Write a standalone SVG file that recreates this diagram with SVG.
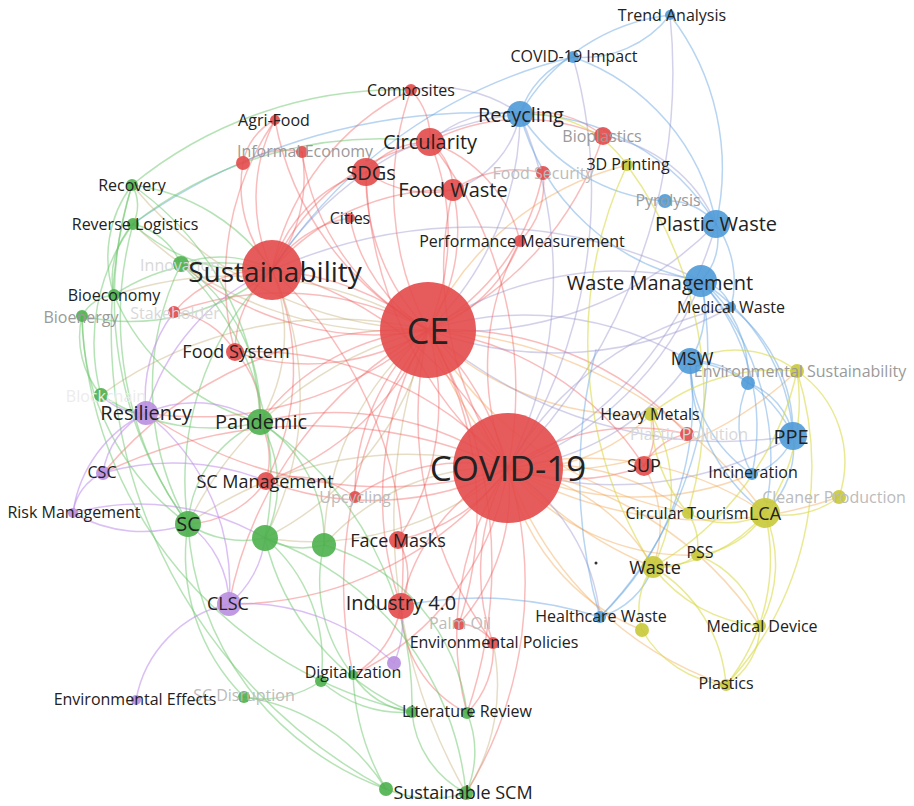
<svg xmlns="http://www.w3.org/2000/svg" width="914" height="806" viewBox="0 0 914 806">
<style>
#edges path{fill:none;stroke-width:1.5;stroke-linecap:round}
.r{stroke:rgba(238,80,80,.38)}
.g{stroke:rgba(110,200,110,.5)}
.b{stroke:rgba(95,160,225,.45)}
.y{stroke:rgba(215,215,60,.55)}
.p{stroke:rgba(190,140,235,.55)}
.o{stroke:rgba(240,160,70,.4)}
.v{stroke:rgba(150,145,205,.42)}
.gr{stroke:rgba(190,165,105,.38)}
text{font-family:"Open Sans","Noto Sans","Liberation Sans",sans-serif;text-anchor:middle;dominant-baseline:central;fill:#222}
.s16{font-size:16px}.s18{font-size:18px}.s20{font-size:20px}
.f1{fill:#9a9a9a}.f2{fill:#bbbbbb}.f3{fill:#d8d8d8}.f4{fill:#ececec}
.nr{fill:#e34a4a;fill-opacity:.9}.ng{fill:#4cb04c;fill-opacity:.9}.nb{fill:#4f9ad8;fill-opacity:.9}.ny{fill:#c9c93a;fill-opacity:.9}.np{fill:#b98ee0;fill-opacity:.9}
</style>
<rect width="914" height="806" fill="#ffffff"/>
<g id="edges">
<path class="r" stroke-width="16" d="M428 330 A300 300 0 0 1 508 468"/>
<path class="r" stroke-width="9" d="M428 330 A300 300 0 0 0 272 270"/>
<path class="r" stroke-width="3" d="M428 330 A220 220 0 0 1 366 172"/>
<path class="r" stroke-width="3" d="M428 330 A240 240 0 0 0 430 142"/>
<path class="r" stroke-width="3" d="M428 330 A180 180 0 0 0 453 190"/>
<path class="r" stroke-width="2" d="M428 330 A300 300 0 0 1 411 90"/>
<path class="r" d="M428 330 A300 300 0 0 1 275 120"/>
<path class="r" d="M428 330 A170 170 0 0 1 350 218"/>
<path class="r" stroke-width="2" d="M428 330 A150 150 0 0 0 520 241"/>
<path class="r" d="M428 330 A230 230 0 0 0 543 173"/>
<path class="r" d="M428 330 A320 320 0 0 0 603 136"/>
<path class="v" stroke-width="5" d="M428 330 A300 300 0 0 0 520 114"/>
<path class="v" stroke-width="3" d="M428 330 A360 360 0 0 0 716 224"/>
<path class="v" stroke-width="6" d="M428 330 A340 340 0 0 1 701 281"/>
<path class="v" stroke-width="3" d="M428 330 A320 320 0 0 1 690 361"/>
<path class="r" d="M428 330 A230 230 0 0 1 235 352"/>
<path class="r" stroke-width="3" d="M428 330 A230 230 0 0 0 260 422"/>
<path class="r" stroke-width="3" d="M428 330 A280 280 0 0 1 266 481"/>
<path class="gr" stroke-width="2" d="M428 330 A360 360 0 0 0 188 524"/>
<path class="gr" stroke-width="3" d="M428 330 A310 310 0 0 1 265 538"/>
<path class="gr" stroke-width="3" d="M428 330 A280 280 0 0 0 324 545"/>
<path class="r" stroke-width="3" d="M428 330 A250 250 0 0 1 398 540"/>
<path class="r" stroke-width="2.5" d="M428 330 A330 330 0 0 0 401 606"/>
<path class="r" d="M428 330 A360 360 0 0 1 459 624"/>
<path class="r" d="M428 330 A380 380 0 0 0 493 643"/>
<path class="r" stroke-width="2" d="M428 330 A300 300 0 0 1 644 466"/>
<path class="o" d="M428 330 A290 290 0 0 0 651 414"/>
<path class="o" d="M428 330 A450 450 0 0 1 765 513"/>
<path class="o" d="M428 330 A400 400 0 0 0 653 567"/>
<path class="r" d="M428 330 A350 350 0 0 1 146 413"/>
<path class="r" d="M428 330 A310 310 0 0 0 174 312"/>
<path class="r" d="M428 330 A300 300 0 0 1 181 264"/>
<path class="gr" d="M428 330 A380 380 0 0 0 114 295"/>
<path class="gr" d="M428 330 A380 380 0 0 1 133 224"/>
<path class="gr" d="M428 330 A400 400 0 0 1 132 185"/>
<path class="r" d="M428 330 A430 430 0 0 0 353 675"/>
<path class="r" d="M428 330 A460 460 0 0 1 467 713"/>
<path class="gr" d="M428 330 A550 550 0 0 0 466 793"/>
<path class="r" d="M428 330 A400 400 0 0 0 229 604"/>
<path class="r" d="M428 330 A330 330 0 0 1 687 434"/>
<path class="o" d="M428 330 A380 380 0 0 0 688 513"/>
<path class="r" d="M428 330 A220 220 0 0 0 355 497"/>
<path class="r" d="M428 330 A240 240 0 0 1 302 152"/>
<path class="o" d="M428 330 A300 300 0 0 1 627 165"/>
<path class="v" d="M428 330 A450 450 0 0 0 793 436"/>
<path class="v" d="M428 330 A360 360 0 0 0 731 307"/>
<path class="r" d="M428 330 A400 400 0 0 0 103 473"/>
<path class="gr" d="M428 330 A400 400 0 0 0 101 395"/>
<path class="r" stroke-width="5" d="M508 468 A360 360 0 0 0 272 270"/>
<path class="r" stroke-width="2" d="M508 468 A400 400 0 0 1 366 172"/>
<path class="r" stroke-width="2" d="M508 468 A400 400 0 0 0 430 142"/>
<path class="r" stroke-width="2" d="M508 468 A340 340 0 0 1 453 190"/>
<path class="v" stroke-width="2" d="M508 468 A420 420 0 0 0 520 114"/>
<path class="v" stroke-width="3" d="M508 468 A380 380 0 0 0 716 224"/>
<path class="v" stroke-width="6" d="M508 468 A320 320 0 0 0 701 281"/>
<path class="v" stroke-width="3" d="M508 468 A250 250 0 0 0 690 361"/>
<path class="v" d="M508 468 A330 330 0 0 1 731 307"/>
<path class="v" stroke-width="2" d="M508 468 A350 350 0 0 0 793 436"/>
<path class="r" stroke-width="4" d="M508 468 A200 200 0 0 0 644 466"/>
<path class="r" d="M508 468 A220 220 0 0 1 687 434"/>
<path class="o" stroke-width="2" d="M508 468 A180 180 0 0 0 651 414"/>
<path class="o" stroke-width="3" d="M508 468 A320 320 0 0 1 765 513"/>
<path class="o" stroke-width="2" d="M508 468 A230 230 0 0 1 688 513"/>
<path class="o" stroke-width="3" d="M508 468 A200 200 0 0 1 653 567"/>
<path class="o" d="M508 468 A230 230 0 0 0 697 555"/>
<path class="o" d="M508 468 A360 360 0 0 1 760 626"/>
<path class="o" d="M508 468 A350 350 0 0 0 726 685"/>
<path class="v" d="M508 468 A200 200 0 0 1 600 617"/>
<path class="r" d="M508 468 A210 210 0 0 0 493 643"/>
<path class="r" d="M508 468 A200 200 0 0 1 459 624"/>
<path class="r" stroke-width="3" d="M508 468 A200 200 0 0 0 401 606"/>
<path class="r" stroke-width="4" d="M508 468 A180 180 0 0 1 398 540"/>
<path class="r" stroke-width="2" d="M508 468 A190 190 0 0 0 355 497"/>
<path class="r" stroke-width="3" d="M508 468 A300 300 0 0 1 266 481"/>
<path class="r" stroke-width="4" d="M508 468 A300 300 0 0 0 260 422"/>
<path class="gr" stroke-width="4" d="M508 468 A300 300 0 0 1 265 538"/>
<path class="gr" stroke-width="4" d="M508 468 A230 230 0 0 0 324 545"/>
<path class="gr" stroke-width="3" d="M508 468 A380 380 0 0 0 188 524"/>
<path class="r" d="M508 468 A420 420 0 0 1 146 413"/>
<path class="r" stroke-width="2" d="M508 468 A340 340 0 0 0 235 352"/>
<path class="r" d="M508 468 A480 480 0 0 0 103 473"/>
<path class="o" d="M508 468 A300 300 0 0 0 752 474"/>
<path class="o" d="M508 468 A400 400 0 0 0 839 497"/>
<path class="o" d="M508 468 A360 360 0 0 0 797 371"/>
<path class="r" d="M508 468 A280 280 0 0 1 353 675"/>
<path class="r" d="M508 468 A300 300 0 0 0 467 713"/>
<path class="r" d="M508 468 A400 400 0 0 1 466 793"/>
<path class="v" d="M508 468 A500 500 0 0 0 573 57"/>
<path class="v" d="M508 468 A560 560 0 0 0 670 15"/>
<path class="r" d="M508 468 A260 260 0 0 1 520 241"/>
<path class="r" d="M508 468 A350 350 0 0 1 229 604"/>
<path class="o" d="M508 468 A220 220 0 0 0 642 630"/>
<path class="r" stroke-width="3" d="M272 270 A140 140 0 0 1 366 172"/>
<path class="r" stroke-width="3" d="M272 270 A220 220 0 0 1 430 142"/>
<path class="r" d="M272 270 A170 170 0 0 1 275 120"/>
<path class="r" d="M272 270 A150 150 0 0 0 302 152"/>
<path class="r" d="M272 270 A130 130 0 0 1 243 163"/>
<path class="r" d="M272 270 A110 110 0 0 1 350 218"/>
<path class="r" stroke-width="2" d="M272 270 A110 110 0 0 0 235 352"/>
<path class="gr" stroke-width="2" d="M272 270 A170 170 0 0 1 260 422"/>
<path class="r" d="M272 270 A120 120 0 0 0 174 312"/>
<path class="g" d="M272 270 A110 110 0 0 0 181 264"/>
<path class="g" d="M272 270 A190 190 0 0 0 114 295"/>
<path class="g" d="M272 270 A180 180 0 0 1 133 224"/>
<path class="g" d="M272 270 A200 200 0 0 0 132 185"/>
<path class="g" d="M272 270 A300 300 0 0 0 188 524"/>
<path class="p" d="M272 270 A220 220 0 0 0 146 413"/>
<path class="r" d="M272 270 A240 240 0 0 1 266 481"/>
<path class="r" d="M272 270 A230 230 0 0 1 453 190"/>
<path class="r" d="M272 270 A260 260 0 0 1 411 90"/>
<path class="v" d="M272 270 A340 340 0 0 1 520 114"/>
<path class="r" d="M272 270 A400 400 0 0 1 401 606"/>
<path class="gr" d="M272 270 A300 300 0 0 1 265 538"/>
<path class="g" d="M272 270 A220 220 0 0 1 82 316"/>
<path class="v" d="M272 270 A500 500 0 0 1 701 281"/>
<path class="r" d="M366 172 A80 80 0 0 1 430 142"/>
<path class="r" d="M366 172 A110 110 0 0 0 453 190"/>
<path class="r" d="M430 142 A70 70 0 0 0 411 90"/>
<path class="r" d="M430 142 A60 60 0 0 1 453 190"/>
<path class="v" d="M430 142 A110 110 0 0 1 520 114"/>
<path class="r" d="M430 142 A200 200 0 0 1 603 136"/>
<path class="v" stroke-width="2.5" d="M453 190 A100 100 0 0 0 520 114"/>
<path class="r" d="M453 190 A110 110 0 0 1 543 173"/>
<path class="v" d="M411 90 A140 140 0 0 1 520 114"/>
<path class="r" d="M275 120 A60 60 0 0 0 243 163"/>
<path class="r" d="M275 120 A280 280 0 0 0 235 352"/>
<path class="r" d="M243 163 A80 80 0 0 1 302 152"/>
<path class="r" d="M430 142 A140 140 0 0 1 520 241"/>
<path class="r" d="M543 173 A80 80 0 0 1 520 241"/>
<path class="v" d="M603 136 A150 150 0 0 1 716 224"/>
<path class="r" d="M603 136 A100 100 0 0 0 520 114"/>
<path class="r" d="M235 352 A90 90 0 0 1 260 422"/>
<path class="r" d="M235 352 A80 80 0 0 0 174 312"/>
<path class="r" d="M266 481 A80 80 0 0 0 260 422"/>
<path class="r" d="M266 481 A100 100 0 0 1 188 524"/>
<path class="r" d="M398 540 A70 70 0 0 1 401 606"/>
<path class="r" d="M401 606 A100 100 0 0 1 353 675"/>
<path class="r" d="M401 606 A120 120 0 0 0 467 713"/>
<path class="p" stroke-width="2" d="M401 606 A100 100 0 0 1 394 663"/>
<path class="r" d="M493 643 A90 90 0 0 1 467 713"/>
<path class="gr" d="M493 643 A200 200 0 0 1 466 793"/>
<path class="r" d="M459 624 A40 40 0 0 1 493 643"/>
<path class="r" d="M355 497 A100 100 0 0 0 266 481"/>
<path class="r" d="M644 466 A60 60 0 0 1 687 434"/>
<path class="r" d="M644 466 A60 60 0 0 0 651 414"/>
<path class="o" d="M644 466 A120 120 0 0 1 653 567"/>
<path class="b" d="M520 114 A90 90 0 0 1 573 57"/>
<path class="b" d="M520 114 A200 200 0 0 1 670 15"/>
<path class="b" stroke-width="3" d="M520 114 A230 230 0 0 1 716 224"/>
<path class="b" stroke-width="3" d="M520 114 A230 230 0 0 0 701 281"/>
<path class="b" d="M520 114 A190 190 0 0 0 665 201"/>
<path class="y" d="M520 114 A120 120 0 0 1 627 165"/>
<path class="b" d="M573 57 A110 110 0 0 0 670 15"/>
<path class="b" d="M573 57 A220 220 0 0 1 716 224"/>
<path class="b" d="M670 15 A250 250 0 0 1 716 224"/>
<path class="b" d="M573 57 A500 500 0 0 0 272 270"/>
<path class="b" d="M520 114 A600 600 0 0 0 133 224"/>
<path class="b" stroke-width="3" d="M716 224 A60 60 0 0 1 701 281"/>
<path class="b" d="M716 224 A60 60 0 0 0 665 201"/>
<path class="b" d="M716 224 A100 100 0 0 1 731 307"/>
<path class="b" d="M701 281 A40 40 0 0 1 731 307"/>
<path class="b" stroke-width="4" d="M701 281 A100 100 0 0 1 690 361"/>
<path class="b" stroke-width="2" d="M701 281 A200 200 0 0 1 793 436"/>
<path class="b" d="M701 281 A120 120 0 0 1 748 383"/>
<path class="b" d="M701 281 A220 220 0 0 1 752 474"/>
<path class="b" stroke-width="2" d="M690 361 A130 130 0 0 1 793 436"/>
<path class="b" d="M690 361 A80 80 0 0 1 748 383"/>
<path class="b" d="M690 361 A140 140 0 0 0 752 474"/>
<path class="b" d="M748 383 A70 70 0 0 1 793 436"/>
<path class="b" d="M748 383 A100 100 0 0 0 752 474"/>
<path class="b" d="M793 436 A60 60 0 0 1 752 474"/>
<path class="b" d="M731 307 A160 160 0 0 1 793 436"/>
<path class="b" stroke-width="2" d="M600 617 A300 300 0 0 0 690 361"/>
<path class="b" d="M600 617 A380 380 0 0 0 701 281"/>
<path class="b" d="M600 617 A80 80 0 0 0 653 567"/>
<path class="b" d="M793 436 A90 90 0 0 1 765 513"/>
<path class="b" d="M701 281 A260 260 0 0 1 765 513"/>
<path class="b" d="M690 361 A190 190 0 0 0 765 513"/>
<path class="b" d="M600 617 A400 400 0 0 0 401 606"/>
<path class="b" d="M600 617 A500 500 0 0 1 596 350"/>
<path class="y" d="M765 513 A90 90 0 0 0 839 497"/>
<path class="y" d="M765 513 A200 200 0 0 0 797 371"/>
<path class="y" d="M765 513 A80 80 0 0 1 688 513"/>
<path class="y" d="M765 513 A90 90 0 0 1 697 555"/>
<path class="y" d="M765 513 A150 150 0 0 1 653 567"/>
<path class="y" d="M765 513 A130 130 0 0 1 760 626"/>
<path class="y" d="M765 513 A200 200 0 0 1 726 685"/>
<path class="y" d="M653 567 A60 60 0 0 0 697 555"/>
<path class="y" d="M653 567 A150 150 0 0 0 760 626"/>
<path class="y" d="M653 567 A150 150 0 0 1 726 685"/>
<path class="y" d="M642 630 A110 110 0 0 0 726 685"/>
<path class="y" d="M642 630 A70 70 0 0 1 653 567"/>
<path class="y" d="M760 626 A70 70 0 0 1 726 685"/>
<path class="y" d="M797 371 A110 110 0 0 1 839 497"/>
<path class="y" d="M797 371 A320 320 0 0 1 726 685"/>
<path class="y" d="M627 165 A420 420 0 0 0 653 567"/>
<path class="y" d="M627 165 A400 400 0 0 1 688 513"/>
<path class="y" d="M651 414 A160 160 0 0 1 653 567"/>
<path class="y" d="M797 371 A200 200 0 0 0 651 414"/>
<path class="y" d="M697 555 A100 100 0 0 1 760 626"/>
<path class="y" d="M688 513 A60 60 0 0 1 697 555"/>
<path class="y" d="M797 371 A300 300 0 0 1 653 567"/>
<path class="y" d="M690 361 A100 100 0 0 1 797 371"/>
<path class="y" d="M651 414 A150 150 0 0 0 688 513"/>
<path class="g" d="M132 185 A40 40 0 0 1 133 224"/>
<path class="g" d="M132 185 A120 120 0 0 0 114 295"/>
<path class="g" d="M133 224 A80 80 0 0 0 114 295"/>
<path class="g" d="M133 224 A70 70 0 0 1 181 264"/>
<path class="g" d="M114 295 A40 40 0 0 0 82 316"/>
<path class="g" d="M82 316 A90 90 0 0 0 101 395"/>
<path class="g" d="M133 224 A200 200 0 0 0 101 395"/>
<path class="p" d="M101 395 A60 60 0 0 0 146 413"/>
<path class="g" d="M101 395 A200 200 0 0 0 260 422"/>
<path class="g" stroke-width="2" d="M260 422 A120 120 0 0 0 188 524"/>
<path class="g" stroke-width="2" d="M260 422 A120 120 0 0 1 265 538"/>
<path class="g" stroke-width="2" d="M260 422 A140 140 0 0 1 324 545"/>
<path class="g" stroke-width="4" d="M188 524 A100 100 0 0 0 265 538"/>
<path class="g" stroke-width="5" d="M265 538 A80 80 0 0 0 324 545"/>
<path class="p" d="M188 524 A100 100 0 0 1 229 604"/>
<path class="g" d="M188 524 A200 200 0 0 0 244 697"/>
<path class="g" d="M265 538 A160 160 0 0 1 321 681"/>
<path class="g" d="M324 545 A150 150 0 0 0 353 675"/>
<path class="g" d="M324 545 A200 200 0 0 1 467 713"/>
<path class="g" d="M265 538 A250 250 0 0 0 412 712"/>
<path class="g" d="M188 524 A300 300 0 0 0 386 789"/>
<path class="g" d="M321 681 A120 120 0 0 0 412 712"/>
<path class="g" d="M321 681 A100 100 0 0 1 244 697"/>
<path class="g" d="M467 713 A100 100 0 0 1 466 793"/>
<path class="g" d="M412 712 A100 100 0 0 0 466 793"/>
<path class="g" d="M244 697 A200 200 0 0 1 386 789"/>
<path class="g" d="M265 538 A300 300 0 0 1 466 793"/>
<path class="g" d="M260 422 A340 340 0 0 1 412 712"/>
<path class="g" d="M181 264 A180 180 0 0 1 260 422"/>
<path class="g" d="M132 185 A300 300 0 0 1 260 422"/>
<path class="g" d="M114 295 A220 220 0 0 0 260 422"/>
<path class="g" d="M188 524 A350 350 0 0 1 133 224"/>
<path class="g" d="M132 185 A380 380 0 0 0 188 524"/>
<path class="g" d="M82 316 A260 260 0 0 0 188 524"/>
<path class="g" d="M181 264 A280 280 0 0 0 188 524"/>
<path class="g" d="M386 789 A120 120 0 0 0 466 793"/>
<path class="g" d="M386 789 A250 250 0 0 1 353 675"/>
<path class="g" d="M181 264 A300 300 0 0 1 265 538"/>
<path class="g" d="M132 185 A420 420 0 0 1 411 90"/>
<path class="g" d="M132 185 A520 520 0 0 0 386 789"/>
<path class="g" d="M82 316 A420 420 0 0 0 412 712"/>
<path class="g" d="M133 224 A400 400 0 0 1 430 142"/>
<path class="g" d="M353 675 A80 80 0 0 0 412 712"/>
<path class="p" d="M146 413 A80 80 0 0 0 103 473"/>
<path class="p" d="M146 413 A130 130 0 0 0 73 513"/>
<path class="p" d="M103 473 A50 50 0 0 0 73 513"/>
<path class="p" stroke-width="2" d="M146 413 A220 220 0 0 1 229 604"/>
<path class="p" d="M229 604 A120 120 0 0 0 136 700"/>
<path class="p" stroke-width="2.5" d="M146 413 A140 140 0 0 1 174 312"/>
<path class="p" d="M103 473 A250 250 0 0 1 266 481"/>
<path class="p" d="M229 604 A100 100 0 0 0 265 538"/>
<path class="p" d="M146 413 A120 120 0 0 1 260 422"/>
<path class="p" d="M394 663 A220 220 0 0 0 229 604"/>
<path class="p" d="M73 513 A140 140 0 0 0 188 524"/>
<path class="p" d="M73 513 A250 250 0 0 1 265 538"/>
</g>
<g id="n-stakeholder"><circle class="nr" cx="174" cy="312" r="6"/><text class="s16 f3" x="175" y="313">Stakeholder</text></g>
<g id="n-innovation"><circle class="ng" cx="181" cy="264" r="8"/><text class="s16 f3" x="180" y="265">Innovation</text></g>
<g id="n-blockchain"><circle class="ng" cx="101" cy="395" r="7"/><text class="s16 f4" x="106" y="396">Blockchain</text></g>
<g id="n-bioenergy"><circle class="ng" cx="82" cy="316" r="6"/><text class="s16 f1" x="81" y="317">Bioenergy</text></g>
<g id="n-bioeconomy"><circle class="ng" cx="114" cy="295" r="6"/><text class="s16" x="114" y="295">Bioeconomy</text></g>
<g id="n-recovery"><circle class="ng" cx="132" cy="185" r="6"/><text class="s16" x="132" y="185">Recovery</text></g>
<g id="n-reverse-logistics"><circle class="ng" cx="133" cy="224" r="6"/><text class="s16" x="135" y="224">Reverse Logistics</text></g>
<g id="n-informal-economy"><circle class="nr" cx="302" cy="152" r="6"/><text class="s16 f1" x="305" y="151">Informal Economy</text></g>
<g id="n-red-1"><circle class="nr" cx="243" cy="163" r="7"/></g>
<g id="n-agri-food"><circle class="nr" cx="275" cy="120" r="5"/><text class="s16" x="274" y="120">Agri-Food</text></g>
<g id="n-composites"><circle class="nr" cx="411" cy="90" r="6"/><text class="s16" x="411" y="90">Composites</text></g>
<g id="n-cities"><circle class="nr" cx="350" cy="218" r="5"/><text class="s16" x="350" y="218">Cities</text></g>
<g id="n-food-security"><circle class="nr" cx="543" cy="173" r="7"/><text class="s16 f2" x="543" y="173">Food Security</text></g>
<g id="n-bioplastics"><circle class="nr" cx="603" cy="136" r="9"/><text class="s16 f1" x="602" y="136">Bioplastics</text></g>
<g id="n-performance"><circle class="nr" cx="520" cy="241" r="6"/><text class="s16" x="522" y="241">Performance Measurement</text></g>
<g id="n-food-system"><circle class="nr" cx="235" cy="352" r="9"/><text class="s18" x="236" y="351">Food System</text></g>
<g id="n-upcycling"><circle class="nr" cx="355" cy="497" r="6"/><text class="s16 f2" x="355" y="497">Upcycling</text></g>
<g id="n-sc-management"><circle class="nr" cx="266" cy="481" r="9"/><text class="s18" x="265" y="481">SC Management</text></g>
<g id="n-face-masks"><circle class="nr" cx="398" cy="540" r="9"/><text class="s18" x="398" y="540">Face Masks</text></g>
<g id="n-palm-oil"><circle class="nr" cx="459" cy="624" r="6"/><text class="s16 f2" x="460" y="623">Palm Oil</text></g>
<g id="n-industry"><circle class="nr" cx="401" cy="606" r="13"/><text class="s20" x="401" y="602">Industry 4.0</text></g>
<g id="n-env-policies"><circle class="nr" cx="493" cy="643" r="6"/><text class="s16" x="494" y="642">Environmental Policies</text></g>
<g id="n-plastic-pollution"><circle class="nr" cx="687" cy="434" r="7"/><text class="s16 f3" x="689" y="434">Plastic Pollution</text></g>
<g id="n-sup"><circle class="nr" cx="644" cy="466" r="10"/><text class="s18" x="644" y="465">SUP</text></g>
<g id="n-covid-impact"><circle class="nb" cx="573" cy="57" r="6"/><text class="s16" x="574" y="56">COVID-19 Impact</text></g>
<g id="n-trend"><circle class="nb" cx="670" cy="15" r="5"/><text class="s16" x="672" y="15">Trend Analysis</text></g>
<g id="n-3d"><circle class="ny" cx="627" cy="165" r="6"/><text class="s16" x="628" y="164">3D Printing</text></g>
<g id="n-pyrolysis"><circle class="nb" cx="665" cy="201" r="7"/><text class="s16 f1" x="668" y="200">Pyrolysis</text></g>
<g id="n-recycling"><circle class="nb" cx="520" cy="114" r="13"/><text class="s20" x="521" y="114">Recycling</text></g>
<g id="n-medical-waste"><circle class="nb" cx="731" cy="307" r="5"/><text class="s16" x="731" y="307">Medical Waste</text></g>
<g id="n-blue-1"><circle class="nb" cx="748" cy="383" r="7"/></g>
<g id="n-env-sust"><circle class="ny" cx="797" cy="371" r="7"/><text class="s16 f1" x="800" y="371">Environmental Sustainability</text></g>
<g id="n-incineration"><circle class="nb" cx="752" cy="474" r="6"/><text class="s16" x="753" y="472">Incineration</text></g>
<g id="n-ppe"><circle class="nb" cx="793" cy="436" r="14"/><text class="s20" x="791" y="436">PPE</text></g>
<g id="n-msw"><circle class="nb" cx="690" cy="361" r="13"/><text class="s18" x="692" y="358">MSW</text></g>
<g id="n-plastic-waste"><circle class="nb" cx="716" cy="224" r="14"/><text class="s20" x="716" y="223">Plastic Waste</text></g>
<g id="n-waste-management"><circle class="nb" cx="701" cy="281" r="16"/><text class="s20" x="660" y="282">Waste Management</text></g>
<g id="n-healthcare"><circle class="nb" cx="600" cy="617" r="6"/><text class="s16" x="601" y="616">Healthcare Waste</text></g>
<g id="n-dot"><circle cx="596" cy="563" r="1.5" fill="#333"/></g>
<g id="n-heavy-metals"><circle class="ny" cx="651" cy="414" r="7"/><text class="s16" x="650" y="414">Heavy Metals</text></g>
<g id="n-cleaner"><circle class="ny" cx="839" cy="497" r="7"/><text class="s16 f2" x="834" y="497">Cleaner Production</text></g>
<g id="n-circular-tourism"><circle class="ny" cx="688" cy="513" r="6"/><text class="s16" x="687" y="513">Circular Tourism</text></g>
<g id="n-lca"><circle class="ny" cx="765" cy="513" r="15"/><text class="s18" x="765" y="513">LCA</text></g>
<g id="n-pss"><circle class="ny" cx="697" cy="555" r="6"/><text class="s16" x="700" y="552">PSS</text></g>
<g id="n-waste"><circle class="ny" cx="653" cy="567" r="11"/><text class="s18" x="655" y="567">Waste</text></g>
<g id="n-yellow-1"><circle class="ny" cx="642" cy="630" r="7"/></g>
<g id="n-medical-device"><circle class="ny" cx="760" cy="626" r="6"/><text class="s16" x="762" y="626">Medical Device</text></g>
<g id="n-plastics"><circle class="ny" cx="726" cy="685" r="6"/><text class="s16" x="726" y="683">Plastics</text></g>
<g id="n-sc-disruption"><circle class="ng" cx="244" cy="697" r="6"/><text class="s16 f2" x="244" y="695">SC Disruption</text></g>
<g id="n-green-4"><circle class="ng" cx="321" cy="681" r="6"/></g>
<g id="n-digitalization"><circle class="ng" cx="353" cy="675" r="5"/><text class="s16" x="353" y="672">Digitalization</text></g>
<g id="n-green-5"><circle class="ng" cx="412" cy="712" r="6"/></g>
<g id="n-literature"><circle class="ng" cx="467" cy="713" r="6"/><text class="s16" x="467" y="711">Literature Review</text></g>
<g id="n-green-6"><circle class="ng" cx="386" cy="789" r="7"/></g>
<g id="n-sustainable-scm"><circle class="ng" cx="466" cy="793" r="7"/><text class="s18" x="463" y="792">Sustainable SCM</text></g>
<g id="n-purple-1"><circle class="np" cx="394" cy="663" r="7"/></g>
<g id="n-env-effects"><circle class="np" cx="136" cy="700" r="5"/><text class="s16" x="135" y="699">Environmental Effects</text></g>
<g id="n-clsc"><circle class="np" cx="229" cy="604" r="12"/><text class="s18" x="228" y="603">CLSC</text></g>
<g id="n-risk"><circle class="np" cx="73" cy="513" r="5"/><text class="s16" x="74" y="512">Risk Management</text></g>
<g id="n-csc"><circle class="np" cx="103" cy="473" r="7"/><text class="s16" x="102" y="472">CSC</text></g>
<g id="n-resiliency"><circle class="np" cx="146" cy="413" r="12"/><text class="s20" x="146" y="412">Resiliency</text></g>
<g id="n-sc"><circle class="ng" cx="188" cy="524" r="13"/><text class="s20" x="188" y="523">SC</text></g>
<g id="n-green-1"><circle class="ng" cx="265" cy="538" r="13"/></g>
<g id="n-green-2"><circle class="ng" cx="324" cy="545" r="12"/></g>
<g id="n-pandemic"><circle class="ng" cx="260" cy="422" r="13"/><text class="s20" x="261" y="421">Pandemic</text></g>
<g id="n-food-waste"><circle class="nr" cx="453" cy="190" r="11"/><text class="s20" x="453" y="189">Food Waste</text></g>
<g id="n-circularity"><circle class="nr" cx="430" cy="142" r="14"/><text class="s20" x="430" y="141">Circularity</text></g>
<g id="n-sdgs"><circle class="nr" cx="366" cy="172" r="14"/><text class="s20" x="371" y="172">SDGs</text></g>
<g id="n-sustainability"><circle class="nr" cx="272" cy="270" r="30"/><text x="275" y="271" font-size="28">Sustainability</text></g>
<g id="n-ce"><circle class="nr" cx="428" cy="330" r="48" fill-opacity=".85"/><text x="428" y="330" font-size="36">CE</text></g>
<g id="n-covid"><circle class="nr" cx="508" cy="468" r="55" fill-opacity=".85"/><text x="508" y="467" font-size="35">COVID-19</text></g>
</svg>
